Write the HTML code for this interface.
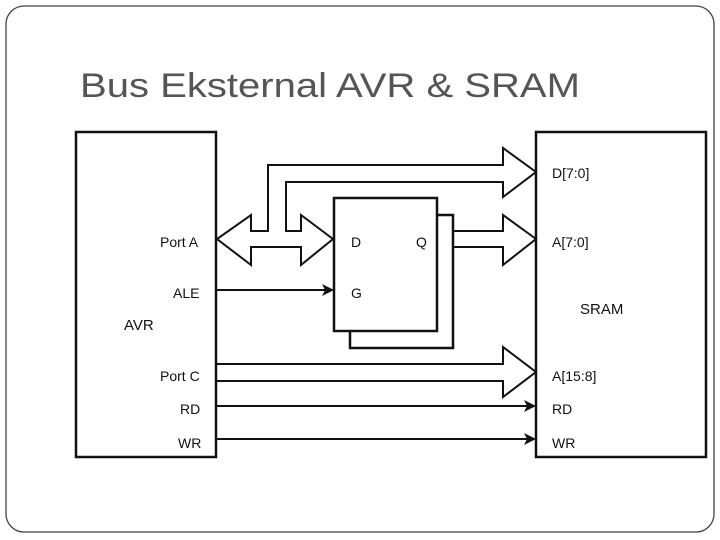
<!DOCTYPE html>
<html><head><meta charset="utf-8"><style>
html,body{margin:0;padding:0;background:#fff;}
svg{display:block;}
</style></head><body>
<svg width="720" height="540" viewBox="0 0 720 540" xmlns="http://www.w3.org/2000/svg">
<rect x="6" y="6" width="708" height="526" rx="18" fill="#fff" stroke="#444" stroke-width="1.3"/>
<text x="80" y="97" font-family="Liberation Sans, sans-serif" font-size="34" fill="#555" textLength="500" lengthAdjust="spacingAndGlyphs">Bus Eksternal AVR &amp; SRAM</text>
<g fill="none" stroke="#111" stroke-width="2.5" stroke-linejoin="miter">
<rect x="76" y="132" width="140" height="325"/>
<rect x="536" y="132" width="170" height="325"/>
<rect x="350" y="215" width="103" height="133" fill="#fff"/>
<rect x="334" y="198" width="103" height="133" fill="#fff"/>
<path d="M301,231 H286 V182 H503 V197 L536,172 L503,148 V165 H268 V231 H251 V215 L217,239 L251,265 V247 H301 V265 L333,239 L301,215 Z" stroke-width="2"/>
<path d="M453,231 H503 V215 L536,239 L503,265 V247 H453" stroke-width="2"/>
<path d="M217,364 H503 V347 L536,372 L503,397 V381 H217" stroke-width="2"/>
<line x1="217" y1="290" x2="326" y2="290" stroke-width="2"/>
<line x1="217" y1="406" x2="528" y2="406" stroke-width="2"/>
<line x1="217" y1="439" x2="528" y2="439" stroke-width="2"/>
</g>
<g fill="#111">
<path d="M334,290 L322,284 L325,290 L322,296 Z"/>
<path d="M536,406 L524,400 L527,406 L524,412 Z"/>
<path d="M536,439 L524,433 L527,439 L524,445 Z"/>
</g>
<g font-family="Liberation Sans, sans-serif" font-size="14" fill="#111">
<text x="160" y="247">Port A</text>
<text x="173" y="298">ALE</text>
<text x="124" y="330" font-size="15">AVR</text>
<text x="160" y="381">Port C</text>
<text x="180" y="414">RD</text>
<text x="178" y="448">WR</text>
<text x="351" y="247">D</text>
<text x="351" y="298">G</text>
<text x="416" y="247">Q</text>
<text x="552" y="178">D[7:0]</text>
<text x="552" y="247">A[7:0]</text>
<text x="580" y="314" font-size="15">SRAM</text>
<text x="552" y="381">A[15:8]</text>
<text x="552" y="414">RD</text>
<text x="552" y="448">WR</text>
</g>
</svg>
</body></html>
